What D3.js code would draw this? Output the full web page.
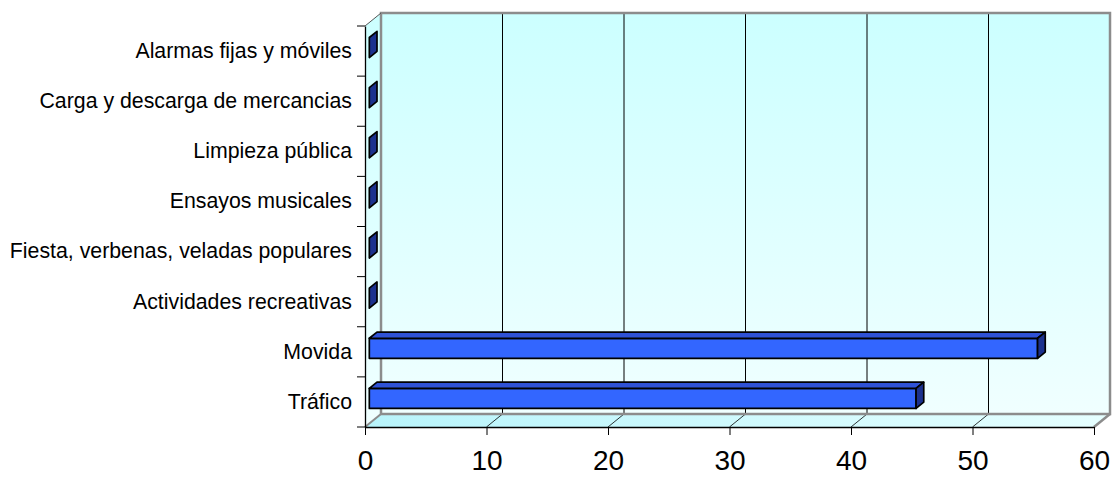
<!DOCTYPE html>
<html>
<head>
<meta charset="utf-8">
<script src="https://cdn.jsdelivr.net/npm/d3@7"></script>
<style>
  body { margin: 0; background: #fff; }
  text { font-family: "Liberation Sans", Arial, sans-serif; fill: #000; }
</style>
</head>
<body>
<div id="chart"></div>
<script>
// data (top to bottom)
var categories = ["Alarmas fijas y móviles", "Carga y descarga de mercancias", "Limpieza pública",
    "Ensayos musicales", "Fiesta, verbenas, veladas populares", "Actividades recreativas",
    "Movida", "Tráfico"];
var values = [0, 0, 0, 0, 0, 0, 55, 45];
var xTicks = [0, 10, 20, 30, 40, 50, 60];

var svgWidth = 1118;
var svgHeight = 477;

// front plane of the plot (window.top is reserved, so use own names)
var plotLeft = 365, plotRight = 1094, plotTop = 26, plotBottom = 427;
// depth of the 3d box (back wall offset)
var depth = { dx: 16, dy: -13 };

var svg = d3.select("#chart")
    .append("svg")
    .attr("width", svgWidth)
    .attr("height", svgHeight);

var x = d3.scaleLinear().domain([0, 60]).range([plotLeft, plotRight]);
var y = d3.scaleBand().domain(categories).range([plotTop, plotBottom]);

var defs = svg.append("defs");
var wallGrad = defs.append("linearGradient").attr("id", "wall")
    .attr("x1", 0).attr("y1", 0).attr("x2", 0).attr("y2", 1);
wallGrad.append("stop").attr("offset", "0%").attr("stop-color", "#ccffff");
wallGrad.append("stop").attr("offset", "100%").attr("stop-color", "#f0ffff");

var floorGrad = defs.append("linearGradient").attr("id", "floor")
    .attr("x1", 0).attr("y1", 0).attr("x2", 1).attr("y2", 0);
floorGrad.append("stop").attr("offset", "0%").attr("stop-color", "#b8f4fb");
floorGrad.append("stop").attr("offset", "100%").attr("stop-color", "#e6ffff");

function pt(px, py) { return px + "," + py; }

// side wall
svg.append("polygon")
    .attr("points", [pt(plotLeft, plotTop), pt(plotLeft + depth.dx, plotTop + depth.dy),
        pt(plotLeft + depth.dx, plotBottom + depth.dy), pt(plotLeft, plotBottom)].join(" "))
    .attr("fill", "url(#wall)");

// floor
svg.append("polygon")
    .attr("points", [pt(plotLeft, plotBottom), pt(plotLeft + depth.dx, plotBottom + depth.dy),
        pt(plotRight + depth.dx, plotBottom + depth.dy), pt(plotRight, plotBottom)].join(" "))
    .attr("fill", "url(#floor)");

// back wall
svg.append("rect")
    .attr("x", plotLeft + depth.dx)
    .attr("y", plotTop + depth.dy)
    .attr("width", plotRight - plotLeft)
    .attr("height", plotBottom - plotTop)
    .attr("fill", "url(#wall)");

// gridlines on back wall and floor
var grid = svg.append("g");
xTicks.slice(1, -1).forEach(function(t) {
    grid.append("line")
        .attr("x1", x(t) + depth.dx).attr("x2", x(t) + depth.dx)
        .attr("y1", plotTop + depth.dy).attr("y2", plotBottom + depth.dy)
        .attr("stroke", "#000").attr("stroke-width", 1);
    grid.append("line")
        .attr("x1", x(t)).attr("y1", plotBottom)
        .attr("x2", x(t) + depth.dx).attr("y2", plotBottom + depth.dy)
        .attr("stroke", "#000").attr("stroke-width", 0.8);
});

// grey wall edges
var edge = svg.append("g").attr("fill", "none").attr("stroke", "#8c8c8c");
edge.append("rect")
    .attr("x", plotLeft + depth.dx)
    .attr("y", plotTop + depth.dy)
    .attr("width", plotRight - plotLeft)
    .attr("height", plotBottom - plotTop)
    .attr("stroke-width", 2.5);
edge.append("polyline")
    .attr("points", [pt(plotLeft, plotBottom), pt(plotLeft + depth.dx, plotBottom + depth.dy)].join(" "))
    .attr("stroke-width", 2);
edge.append("polyline")
    .attr("points", [pt(plotRight, plotBottom), pt(plotRight + depth.dx, plotBottom + depth.dy)].join(" "))
    .attr("stroke-width", 2.5);
edge.append("polyline")
    .attr("points", [pt(plotLeft, plotTop), pt(plotLeft + depth.dx, plotTop + depth.dy)].join(" "))
    .attr("stroke", "#555").attr("stroke-width", 1);

// bars, placed in the middle of the depth
var f0 = 0.27, f1 = 0.75;
var bh = y.bandwidth() * 0.4;
var ox = f0 * depth.dx, oy = f0 * depth.dy;
var kx = (f1 - f0) * depth.dx, ky = (f1 - f0) * depth.dy;

var bars = svg.append("g").selectAll("g")
    .data(categories)
    .enter().append("g")
    .attr("stroke", "#000")
    .attr("stroke-width", 1.7)
    .attr("stroke-linejoin", "round");

bars.each(function(c, i) {
    var g = d3.select(this);
    var x0 = x(0) + ox, x1 = x(values[i]) + ox;
    var yt = y(c) + y.bandwidth() / 2 - bh / 2 + oy, yb = yt + bh;
    if (values[i] > 0) {
        g.append("rect")
            .attr("x", x0).attr("y", yt)
            .attr("width", x1 - x0).attr("height", bh)
            .attr("fill", "#3366ff");
        g.append("polygon")
            .attr("points", [pt(x0, yt), pt(x1, yt), pt(x1 + kx, yt + ky), pt(x0 + kx, yt + ky)].join(" "))
            .attr("fill", "#2f52d6");
    }
    g.append("polygon")
        .attr("points", [pt(x1, yt), pt(x1 + kx, yt + ky), pt(x1 + kx, yb + ky), pt(x1, yb)].join(" "))
        .attr("fill", "#1c318e");
});

// front axes
var xAxis = svg.append("g")
    .attr("transform", "translate(0," + plotBottom + ")")
    .call(d3.axisBottom(x).tickValues(xTicks).tickSize(8).tickSizeOuter(0).tickPadding(15));
xAxis.select(".domain").attr("stroke", "#000").attr("stroke-width", 1.3);
xAxis.selectAll(".tick line").attr("stroke", "#000");
xAxis.selectAll("text")
    .style("font-size", "28px")
    .attr("fill", "#000");

var yAxis = svg.append("g")
    .attr("transform", "translate(" + plotLeft + ",0)")
    .call(d3.axisLeft(y).tickSize(0).tickPadding(13));
yAxis.select(".domain").attr("stroke", "#000").attr("stroke-width", 1.3);
yAxis.selectAll("text")
    .style("font-size", "21.3px")
    .attr("fill", "#000");

// category boundary ticks
svg.append("g").selectAll("line")
    .data(d3.range(categories.length + 1))
    .enter().append("line")
    .attr("x1", plotLeft - 8).attr("x2", plotLeft)
    .attr("y1", d => plotTop + d * y.step())
    .attr("y2", d => plotTop + d * y.step())
    .attr("stroke", "#000").attr("stroke-width", 1);
</script>
</body>
</html>
